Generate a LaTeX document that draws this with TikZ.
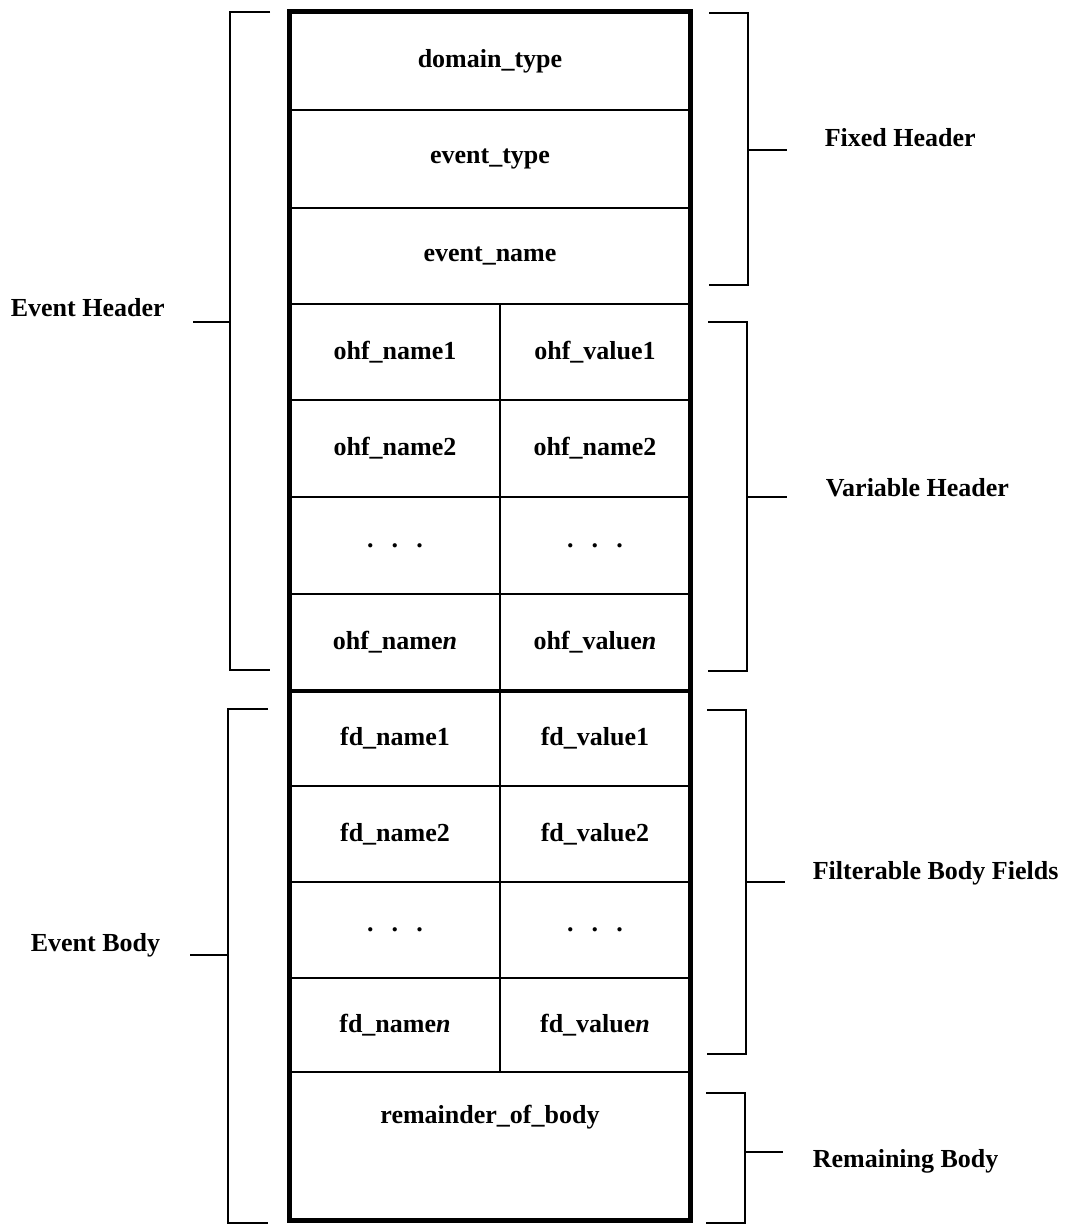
\documentclass[tikz,border=0pt]{standalone}
\usepackage{fontspec}
\setmainfont{Liberation Serif}
\usetikzlibrary{positioning}

\newcommand{\cellfont}{\fontsize{26}{30}\selectfont\bfseries}
\newcommand{\gapdots}{.\hspace{0.7em}.\hspace{0.7em}.}

\begin{document}
\begin{tikzpicture}[x=1pt,y=-1pt,line width=1.6pt,
  cell/.style={draw,inner sep=0pt,font=\cellfont},
  wide/.style={cell,minimum width=400pt},
  lcol/.style={cell,minimum width=210pt},
  rcol/.style={cell,minimum width=190pt},
  lbl/.style={anchor=base west,inner sep=0pt,font=\cellfont},
  brace/.style={line width=2.4pt}]
\useasboundingbox (0,0) rectangle (1066,1226);

% fixed header
\node[wide,minimum height=98pt] (dom) at (490,61) {domain\_type};
\node[wide,minimum height=98pt] (evt) at (490,159) {event\_type};
\node[wide,minimum height=96pt] (evn) at (490,256) {event\_name};

% variable header
\node[lcol,minimum height=96pt] (ohfn1) at (395,352) {ohf\_name1};
\node[rcol,minimum height=96pt] (ohfv1) at (595,352) {ohf\_value1};
\node[lcol,minimum height=97pt] (ohfn2) at (395,448.5) {ohf\_name2};
\node[rcol,minimum height=97pt] (ohfv2) at (595,448.5) {ohf\_name2};
\node[lcol,minimum height=97pt] (ohfnd) at (395,545.5) {\gapdots};
\node[rcol,minimum height=97pt] (ohfvd) at (595,545.5) {\gapdots};
\node[lcol,minimum height=96pt] (ohfnn) at (395,642) {ohf\_name\textit{n}};
\node[rcol,minimum height=96pt] (ohfvn) at (595,642) {ohf\_value\textit{n}};

% filterable body
\node[lcol,minimum height=96pt] (fdn1) at (395,738) {fd\_name1};
\node[rcol,minimum height=96pt] (fdv1) at (595,738) {fd\_value1};
\node[lcol,minimum height=96pt] (fdn2) at (395,834) {fd\_name2};
\node[rcol,minimum height=96pt] (fdv2) at (595,834) {fd\_value2};
\node[lcol,minimum height=96pt] (fdnd) at (395,930) {\gapdots};
\node[rcol,minimum height=96pt] (fdvd) at (595,930) {\gapdots};
\node[lcol,minimum height=94pt] (fdnn) at (395,1025) {fd\_name\textit{n}};
\node[rcol,minimum height=94pt] (fdvn) at (595,1025) {fd\_value\textit{n}};

% remaining body
\node[wide,minimum height=148pt] (rem) at (490,1146) {};
\node[inner sep=0pt,font=\cellfont] (remtxt) at (490,1117) {remainder\_of\_body};

\draw[line width=5pt] (dom.north west) rectangle (rem.south east);
\draw[line width=4pt] (ohfnn.south west) -- (ohfvn.south east);

% brackets
\draw[brace] (270,12) -- (230,12) -- (230,670) -- (270,670);
\draw[brace] (268,709) -- (228,709) -- (228,1223) -- (268,1223);
\draw[brace] (709,13) -- (748,13) -- (748,285) -- (709,285);
\draw[brace] (708,322) -- (747,322) -- (747,671) -- (708,671);
\draw[brace] (707,710) -- (746,710) -- (746,1054) -- (707,1054);
\draw[brace] (706,1093) -- (745,1093) -- (745,1223) -- (706,1223);

\coordinate (ehb) at (230,322);
\coordinate (ebb) at (228,955);
\coordinate (fhb) at (748,150);
\coordinate (vhb) at (747,497);
\coordinate (fbb) at (746,882);
\coordinate (rbb) at (745,1152);

\node[lbl] (ehlbl) at (10,316) {Event Header};
\node[lbl] (eblbl) at (30,951) {Event Body};
\node[lbl] (fhlbl) at (824,146) {Fixed Header};
\node[lbl] (vhlbl) at (825,496) {Variable Header};
\node[lbl] (fblbl) at (812,879) {Filterable Body Fields};
\node[lbl] (rblbl) at (812,1167) {Remaining Body};

\draw[brace] (ehb) -- ++(-37,0);
\draw[brace] (ebb) -- ++(-38,0);
\draw[brace] (fhb) -- ++(39,0);
\draw[brace] (vhb) -- ++(40,0);
\draw[brace] (fbb) -- ++(39,0);
\draw[brace] (rbb) -- ++(38,0);
\end{tikzpicture}
\end{document}
